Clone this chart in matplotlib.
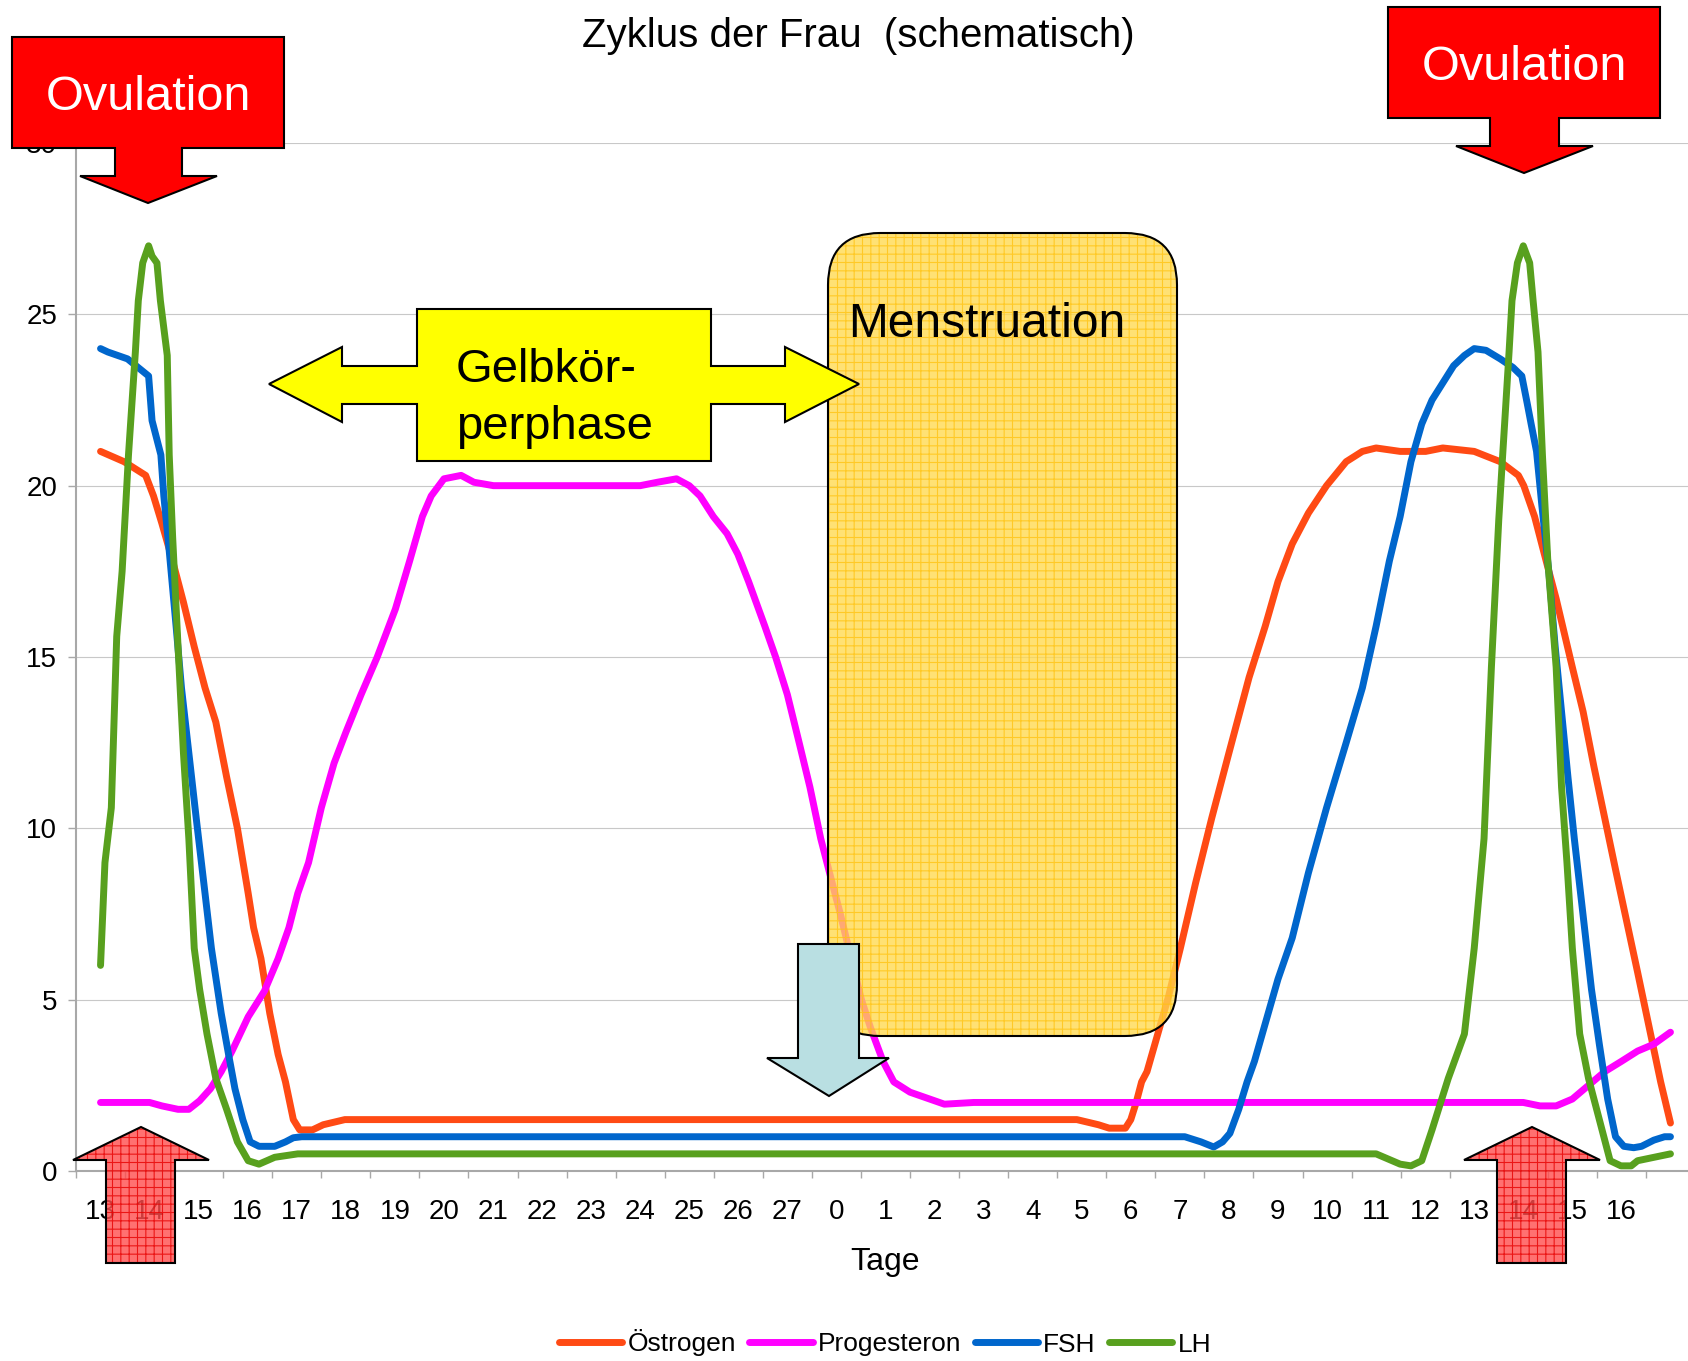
import numpy as np
import matplotlib
matplotlib.use("Agg")
import matplotlib.pyplot as plt
import matplotlib.transforms as mtransforms
from matplotlib.patches import Polygon, FancyBboxPatch

# Tage (Kategorien), Position 32 ohne Beschriftung
day_labels = ['13', '14', '15', '16', '17', '18', '19', '20', '21', '22', '23', '24', '25', '26', '27',
              '0', '1', '2', '3', '4', '5', '6', '7', '8', '9', '10', '11', '12', '13', '14', '15', '16']

# Östrogen
oest_x = [0, 0.48, 0.92, 1.08, 1.25, 1.47, 1.69, 1.91, 2.13, 2.35, 2.57, 2.79, 3.01, 3.12, 3.27, 3.45,
          3.62, 3.77, 3.93, 4.06, 4.32, 4.54, 4.98, 19.9, 20.34, 20.56, 20.89, 21.0, 21.11, 21.22, 21.33,
          21.55, 21.77, 22.01, 22.32, 22.65, 23.0, 23.41, 23.74, 24.0, 24.29, 24.62, 24.99, 25.39, 25.72,
          26.0, 26.49, 27.01, 27.36, 28.0, 28.53, 28.9, 29.01, 29.23, 29.43, 29.67, 30.0, 30.22, 30.44,
          30.88, 31.33, 31.8, 32.0]
oest_y = [21, 20.7, 20.3, 19.7, 18.9, 17.8, 16.6, 15.3, 14.1, 13.1, 11.5, 10, 8.1, 7.1, 6.2, 4.6,
          3.4, 2.6, 1.5, 1.2, 1.2, 1.35, 1.5, 1.5, 1.35, 1.25, 1.25, 1.5, 2.0, 2.6, 2.9,
          4.0, 5.1, 6.5, 8.4, 10.3, 12.2, 14.4, 15.9, 17.2, 18.3, 19.2, 20.0, 20.7, 21.0,
          21.1, 21.0, 21.0, 21.1, 21.0, 20.7, 20.3, 20.0, 19.1, 18.0, 16.7, 14.7, 13.4, 11.8,
          8.8, 5.8, 2.6, 1.4]

# Progesteron
prog_x = [0, 1.0, 1.25, 1.58, 1.8, 2.02, 2.24, 2.46, 2.68, 3.01, 3.34, 3.62, 3.84, 4.02, 4.24, 4.5,
          4.76, 5.0, 5.31, 5.64, 6.01, 6.3, 6.56, 6.74, 7.0, 7.35, 7.61, 8.01, 11.0, 11.35, 11.74, 12.0,
          12.22, 12.49, 12.77, 12.99, 13.21, 13.54, 13.76, 14.0, 14.24, 14.46, 14.68, 14.86, 15.08, 15.3,
          15.51, 15.69, 15.95, 16.17, 16.5, 17.2, 17.8, 29.0, 29.34, 29.67, 30.0, 30.33, 30.66, 31.0,
          31.33, 31.66, 32.0]
prog_y = [2, 2, 1.9, 1.8, 1.8, 2.05, 2.4, 2.9, 3.5, 4.5, 5.25, 6.2, 7.1, 8.1, 9.0, 10.6,
          11.9, 12.8, 13.9, 15.0, 16.4, 17.8, 19.1, 19.7, 20.2, 20.3, 20.1, 20.0, 20.0, 20.1, 20.2, 20.0,
          19.7, 19.1, 18.6, 18.0, 17.2, 15.9, 15.0, 13.9, 12.5, 11.2, 9.7, 8.7, 7.5, 6.2,
          5.0, 4.2, 3.2, 2.6, 2.3, 1.95, 2.0, 2.0, 1.9, 1.9, 2.1, 2.5, 2.9, 3.2,
          3.5, 3.7, 4.05]

# FSH
fsh_x = [0, 0.15, 0.55, 0.98, 1.05, 1.23, 1.29, 1.4, 1.54, 1.65, 1.8, 1.95, 2.13, 2.26, 2.46, 2.61,
         2.74, 2.9, 3.05, 3.23, 3.55, 3.77, 3.93, 4.1, 22.1, 22.43, 22.69, 22.87, 23.02, 23.2, 23.37,
         23.52, 23.74, 24.0, 24.29, 24.62, 24.99, 25.39, 25.72, 26.0, 26.27, 26.49, 26.71, 26.93, 27.14,
         27.36, 27.58, 27.8, 28.0, 28.24, 28.53, 28.79, 28.97, 29.08, 29.16, 29.27, 29.38, 29.52, 29.65,
         29.78, 29.91, 30.04, 30.22, 30.39, 30.55, 30.72, 30.88, 31.05, 31.25, 31.41, 31.66, 31.88, 32.0]
fsh_y = [24, 23.9, 23.7, 23.2, 21.9, 20.9, 19.7, 18.1, 15.9, 14.1, 12.2, 10.3, 8.1, 6.5, 4.6, 3.4,
         2.4, 1.5, 0.85, 0.72, 0.72, 0.85, 0.97, 1.0, 1.0, 0.85, 0.7, 0.85, 1.1, 1.8, 2.6,
         3.2, 4.3, 5.6, 6.8, 8.7, 10.6, 12.5, 14.1, 15.9, 17.8, 19.1, 20.7, 21.8, 22.5,
         23.0, 23.5, 23.8, 24.0, 23.95, 23.7, 23.45, 23.2, 22.4, 21.8, 21.0, 19.4, 17.5, 15.3,
         13.4, 11.5, 9.7, 7.45, 5.3, 3.7, 2.1, 1.0, 0.72, 0.68, 0.72, 0.9, 1.0, 1.0]

# LH
lh_x = [0, 0.09, 0.22, 0.33, 0.44, 0.57, 0.71, 0.77, 0.86, 0.98, 1.05, 1.15, 1.22, 1.36, 1.4, 1.47,
        1.58, 1.69, 1.8, 1.91, 2.02, 2.17, 2.35, 2.57, 2.79, 3.01, 3.23, 3.55, 4.02, 26.0, 26.49, 26.71,
        26.93, 27.14, 27.47, 27.8, 28.0, 28.2, 28.35, 28.5, 28.58, 28.71, 28.77, 28.88, 29.0, 29.13,
        29.2, 29.3, 29.39, 29.5, 29.67, 29.78, 29.89, 30.0, 30.15, 30.33, 30.55, 30.77, 30.99, 31.2,
        31.33, 32.0]
lh_y = [6, 9, 10.6, 15.6, 17.5, 20.9, 23.9, 25.4, 26.5, 27.0, 26.7, 26.5, 25.4, 23.8, 20.9, 18.5,
        15.3, 12.2, 9.7, 6.5, 5.3, 4.0, 2.7, 1.8, 0.85, 0.3, 0.2, 0.4, 0.5, 0.5, 0.2, 0.15,
        0.3, 1.2, 2.7, 4.0, 6.5, 9.7, 14.7, 19.0, 20.9, 23.9, 25.4, 26.5, 27.0, 26.5,
        25.4, 23.9, 20.9, 17.8, 14.7, 11.2, 9.0, 6.5, 4.0, 2.7, 1.5, 0.3, 0.15, 0.15,
        0.3, 0.5]

plt.rcParams['font.family'] = ['Liberation Sans', 'DejaVu Sans']
plt.rcParams['hatch.linewidth'] = 0.8

W, H = 1688, 1361
fig = plt.figure(figsize=(W / 100, H / 100), dpi=100)
ax = fig.add_axes([76 / W, 1 - 1171 / H, 1619 / W, 1028 / H])
px = mtransforms.Affine2D().scale(1 / W, -1 / H).translate(0, 1) + fig.transFigure

line_kw = dict(lw=5, solid_joinstyle='round', solid_capstyle='round')
ax.plot(oest_x, oest_y, color='#FF4A14', label='Östrogen', **line_kw)
ax.plot(prog_x, prog_y, color='#FF00FF', label='Progesteron', **line_kw)
ax.plot(fsh_x, fsh_y, color='#0066CC', label='FSH', **line_kw)
ax.plot(lh_x, lh_y, color='#58A01E', label='LH', **line_kw)

ax.set_xlim(-0.5, 32.5)
ax.set_ylim(0, 30)
ax.set_yticks(np.arange(0, 31, 5))
ax.set_xticks(np.arange(len(day_labels)))
ax.set_xticklabels(day_labels)
ax.set_xticks(np.arange(-0.5, 33, 1), minor=True)
ax.tick_params(axis='x', which='major', length=0, pad=20, labelsize=20)
ax.tick_params(axis='x', which='minor', length=5, width=1, color='#A8A8A8')
ax.tick_params(axis='y', length=5.5, width=1, color='#A8A8A8', pad=8, labelsize=20)
ax.grid(axis='y', color='#C8C8C8', lw=0.8)
ax.set_axisbelow(True)
for s in ['top', 'right']:
    ax.spines[s].set_visible(False)
for s in ['left', 'bottom']:
    ax.spines[s].set_color('#A8A8A8')
    ax.spines[s].set_linewidth(1.5)

fig.text(858, 47, 'Zyklus der Frau  (schematisch)', transform=px, ha='center', va='baseline', fontsize=29)
fig.text(885, 1270, 'Tage', transform=px, ha='center', va='baseline', fontsize=23)

fig.legend(loc='center', bbox_to_anchor=(885 / W, 1 - 1343 / H), ncol=4, frameon=False, fontsize=19,
           handlelength=2.4, handletextpad=0.2, columnspacing=0.5)


def shape(points, face, z, hatch=None, hatch_color=None):
    if hatch:
        fig.patches.append(Polygon(points, closed=True, transform=px, facecolor=face, hatch=hatch,
                                   edgecolor=hatch_color, lw=0, zorder=z))
    else:
        fig.patches.append(Polygon(points, closed=True, transform=px, facecolor=face, lw=0, zorder=z))
    fig.patches.append(Polygon(points, closed=True, transform=px, fill=False, edgecolor='black',
                               lw=1.5, zorder=z))


# Menstruation
fig.patches.append(FancyBboxPatch((828, 233), 349, 803, boxstyle='round,pad=0,rounding_size=52',
                                  transform=px, facecolor=(1.0, 0.85, 0.3, 0.78), hatch='++',
                                  edgecolor=(1.0, 0.76, 0.05, 0.75), lw=0, zorder=2))
fig.patches.append(FancyBboxPatch((828, 233), 349, 803, boxstyle='round,pad=0,rounding_size=52',
                                  transform=px, fill=False, edgecolor='black', lw=1.5, zorder=2))
fig.text(848, 337, 'Menstruation', transform=px, ha='left', va='baseline', fontsize=34.5, zorder=3)

# Pfeil nach unten (Menstruationsbeginn)
shape([(798, 944), (859, 944), (859, 1058), (889, 1058), (829, 1096), (767, 1058), (798, 1058)],
      '#B9DFE2', 4)

# Gelbkörperphase
shape([(269, 384), (342, 347), (342, 366), (417, 366), (417, 309), (711, 309), (711, 366), (785, 366),
       (785, 347), (859, 384), (785, 422), (785, 404), (711, 404), (711, 461), (417, 461), (417, 404),
       (342, 404), (342, 422)], '#FFFF00', 4)
fig.text(456, 382, 'Gelbkör-', transform=px, ha='left', va='baseline', fontsize=34, zorder=5)
fig.text(456, 439, 'perphase', transform=px, ha='left', va='baseline', fontsize=34, zorder=5)

# Ovulation
shape([(12, 37), (284, 37), (284, 148), (182, 148), (182, 176), (217, 176), (148, 203), (80, 176),
       (115, 176), (115, 148), (12, 148)], '#FF0000', 4)
shape([(1388, 7), (1660, 7), (1660, 118), (1559, 118), (1559, 146), (1593, 146), (1524, 173),
       (1456, 146), (1490, 146), (1490, 118), (1388, 118)], '#FF0000', 4)
fig.text(148, 110, 'Ovulation', transform=px, ha='center', va='baseline', fontsize=35, color='white', zorder=5)
fig.text(1524, 80, 'Ovulation', transform=px, ha='center', va='baseline', fontsize=35, color='white', zorder=5)

# Pfeile nach oben
for cx in [141, 1532]:
    shape([(cx, 1127), (cx + 68, 1160), (cx + 34, 1160), (cx + 34, 1263), (cx - 35, 1263),
           (cx - 35, 1160), (cx - 68, 1160)], (1.0, 0.3, 0.3, 0.8), 4, hatch='++', hatch_color=(0.9, 0, 0, 0.8))

fig.savefig('out.png', dpi=100)
